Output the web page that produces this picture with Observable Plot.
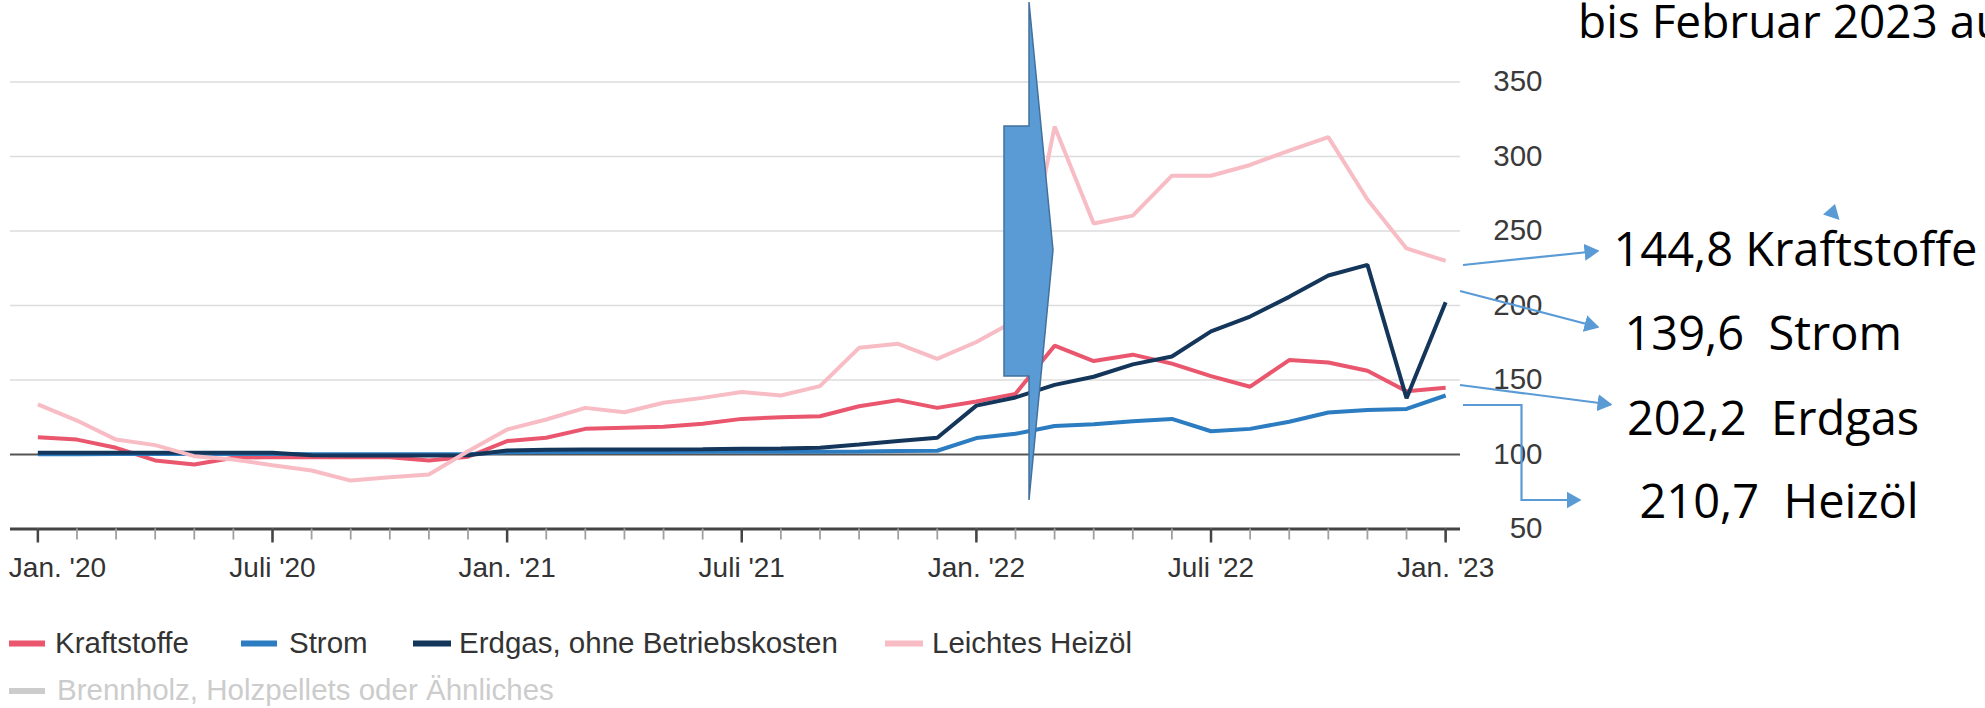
<!DOCTYPE html>
<html>
<head>
<meta charset="utf-8">
<script src="https://cdn.jsdelivr.net/npm/d3@7"></script>
<script src="https://cdn.jsdelivr.net/npm/@observablehq/plot@0.6"></script>
<style>
  html, body { margin: 0; padding: 0; background: #fff; }
  body { width: 1985px; height: 708px; overflow: hidden; }
  #wrap { position: relative; width: 1985px; height: 708px; overflow: hidden; }
  #chart svg, #legend svg { display: block; }
  #overlay { position: absolute; left: 0; top: 0; pointer-events: none; }
</style>
</head>
<body>
<div id="wrap">
  <div id="chart"></div>
  <div id="legend"></div>
  <svg id="overlay" width="1985" height="708"></svg>
</div>
<script>
// ---------------- data (index of month: 0 = Jan 2020 ... 36 = Jan 2023) ----------------
const months = d3.range(37);
const kraftstoffe = [111.6,110,104.5,96,93.3,97.8,98.3,98.2,98.2,98.2,96,98.5,
                     109,111.2,117.2,117.9,118.6,120.6,123.9,125,125.7,132.4,136.5,131.3,
                     135.6,140.7,173,162.7,167,161,152.6,145.5,163.4,161.7,156.2,142.4,
                     144.8];
const strom = [100.1,100.2,100.3,100.3,100.3,100.3,100.3,100.2,100.2,100.2,100.2,100.2,
               101.5,101.6,101.7,101.7,101.7,101.8,101.8,101.8,101.9,102,102.3,102.5,
               111,113.9,119.1,120.3,122.3,123.9,115.6,117.2,122,128.2,129.9,130.6,
               139.6];
const erdgas = [101.1,101.1,101.2,101.2,101.2,101.2,101.1,99.5,99.4,99.4,99.4,99.5,
                102.7,103.2,103.3,103.3,103.4,103.5,103.8,104,104.5,106.7,109,111.2,
                132.8,138.3,146.7,152.2,160.5,165.8,182.6,192.6,205.8,220.1,227.3,137.8,
                202.2];
const heizoel = [133.6,122.8,110,106.3,98.9,96.6,92.8,89.3,82.5,84.8,86.6,102.2,
                 116.8,123.5,131.3,128.4,134.7,138,142,139.6,145.9,171.6,174.3,164.2,
                 175.5,190,320.1,255,260.3,287.1,287.1,294.3,303.9,313,271.1,238.3,
                 229.9];

const seriesNames = ["Kraftstoffe", "Strom", "Erdgas, ohne Betriebskosten", "Leichtes Heizöl"];
const seriesValues = [kraftstoffe, strom, erdgas, heizoel];
const seriesColors = ["#e9566d", "#2c7cc1", "#15365b", "#f8bcc5"];
const hiddenSeries = "Brennholz, Holzpellets oder Ähnliches";
const hiddenColor = "#cccccc";

const xTickMonths = [0, 6, 12, 18, 24, 30, 36];
const xTickLabels = ["Jan. '20", "Juli '20", "Jan. '21", "Juli '21", "Jan. '22", "Juli '22", "Jan. '23"];
const yTicks = [50, 100, 150, 200, 250, 300, 350];
const yGrid = [150, 200, 250, 300, 350];

// annotation texts
const headText = "bis Februar 2023 au";
const noteTexts = ["144,8 Kraftstoffe", "139,6  Strom", "202,2  Erdgas", "210,7  Heizöl"];

// ---------------- chart ----------------
const rows = [];
seriesNames.forEach((name, s) => {
  months.forEach((m, i) => rows.push({month: m, value: seriesValues[s][i], series: name}));
});
const labelOf = m => xTickLabels[xTickMonths.indexOf(m)];
const fontFam = "'Liberation Sans', Arial, Helvetica, sans-serif";

const chart = Plot.plot({
  width: 1560,
  height: 600,
  marginLeft: 10,
  marginRight: 100,
  marginTop: 81.5,
  marginBottom: 71.5,
  x: {domain: [-0.7, 36.38], axis: null},
  y: {domain: [50, 350], axis: null},
  color: {domain: seriesNames, range: seriesColors},
  style: {fontFamily: fontFam, background: "transparent", overflow: "visible", color: "#333"},
  marks: [
    Plot.gridY(yGrid, {stroke: "#dcdcdc", strokeOpacity: 1, strokeWidth: 1.5}),
    Plot.ruleY([100], {stroke: "#555", strokeWidth: 2}),
    Plot.ruleY([50], {stroke: "#444", strokeWidth: 3}),
    Plot.axisX(months, {tickSize: 11, stroke: "#a0a0a0", strokeWidth: 1.8, fill: "none", label: null, tickFormat: () => ""}),
    Plot.axisX(xTickMonths, {tickSize: 14, stroke: "#444", strokeWidth: 2.5, fill: "none", label: null, tickFormat: () => ""}),
    Plot.text(xTickMonths.slice(1), {x: d => d, text: labelOf, frameAnchor: "bottom", lineAnchor: "top", dy: 28.6, fontSize: 28, fill: "#333"}),
    Plot.text(xTickMonths.slice(0, 1), {x: d => d, text: labelOf, frameAnchor: "bottom", lineAnchor: "top", dy: 28.6, dx: -29, textAnchor: "start", fontSize: 28, fill: "#333"}),
    Plot.text(yTicks, {y: d => d, text: d => String(d), frameAnchor: "right", dx: 82, textAnchor: "end", fontSize: 29.5, fill: "#3a3a3a"}),
    Plot.lineY(rows, {x: "month", y: "value", stroke: "series", strokeWidth: 4, strokeLinejoin: "miter", strokeLinecap: "butt"})
  ]
});
document.getElementById("chart").appendChild(chart);

// ---------------- legend (below the chart) ----------------
const legend = d3.select("#legend").append("svg").attr("width", 1985).attr("height", 108)
  .style("font-family", fontFam);
const legendItems = [
  {name: seriesNames[0], color: seriesColors[0], sx: 9, sw: 36, tx: 55, row: 0},
  {name: seriesNames[1], color: seriesColors[1], sx: 241, sw: 36, tx: 289, row: 0},
  {name: seriesNames[2], color: seriesColors[2], sx: 413, sw: 38, tx: 459, row: 0},
  {name: seriesNames[3], color: seriesColors[3], sx: 885, sw: 38, tx: 932, row: 0},
  {name: hiddenSeries, color: hiddenColor, sx: 9, sw: 36, tx: 57, row: 1, muted: true}
];
const rowBase = [53.3, 100], rowSw = [43.5, 91];
legendItems.forEach(it => {
  legend.append("line").attr("x1", it.sx).attr("x2", it.sx + it.sw)
    .attr("y1", rowSw[it.row]).attr("y2", rowSw[it.row])
    .attr("stroke", it.color).attr("stroke-width", 6);
  legend.append("text").attr("x", it.tx).attr("y", rowBase[it.row])
    .attr("font-size", 29.5).attr("fill", it.muted ? hiddenColor : "#333").text(it.name);
});

// ---------------- annotations drawn on top ----------------
const ov = d3.select("#overlay");
const blue = "#5b9bd5";
const defs = ov.append("defs");
defs.append("marker").attr("id", "ah").attr("viewBox", "0 0 10 10").attr("refX", 9).attr("refY", 5)
  .attr("markerWidth", 15).attr("markerHeight", 17).attr("markerUnits", "userSpaceOnUse")
  .attr("orient", "auto").attr("preserveAspectRatio", "none")
  .append("path").attr("d", "M0,0 L10,5 L0,10 Z").attr("fill", blue);

// callout shape
ov.append("polygon")
  .attr("points", "1029,2 1053,250 1029,500 1029,376 1004,376 1004,126 1029,126")
  .attr("fill", blue).attr("stroke", "#41719c").attr("stroke-width", 1.5).attr("stroke-linejoin", "miter");

// arrows
const arrowPaths = [
  "M1463,265 L1598,251",
  "M1460,291 L1598,327",
  "M1460,385 L1611,404.5",
  "M1463,405 L1521.5,405 L1521.5,500 L1580,500"
];
arrowPaths.forEach(d => ov.append("path").attr("d", d).attr("fill", "none")
  .attr("stroke", blue).attr("stroke-width", 2.2).attr("marker-end", "url(#ah)"));
// stray arrowhead
ov.append("polygon").attr("points", "1835,204 1823,214.5 1839.5,220").attr("fill", blue);

// texts
const tf = "'Open Sans', 'Noto Sans', sans-serif";
ov.append("text").attr("x", 1578).attr("y", 37.7).attr("font-family", tf).attr("font-size", 46)
  .attr("fill", "#000").text(headText);
const notePos = [[1613.5, 266], [1624.5, 350], [1627, 435], [1639.5, 518.3]];
noteTexts.forEach((t, i) => ov.append("text").attr("x", notePos[i][0]).attr("y", notePos[i][1])
  .attr("font-family", tf).attr("font-size", 47).attr("fill", "#000")
  .style("white-space", "pre").text(t));
</script>
</body>
</html>
